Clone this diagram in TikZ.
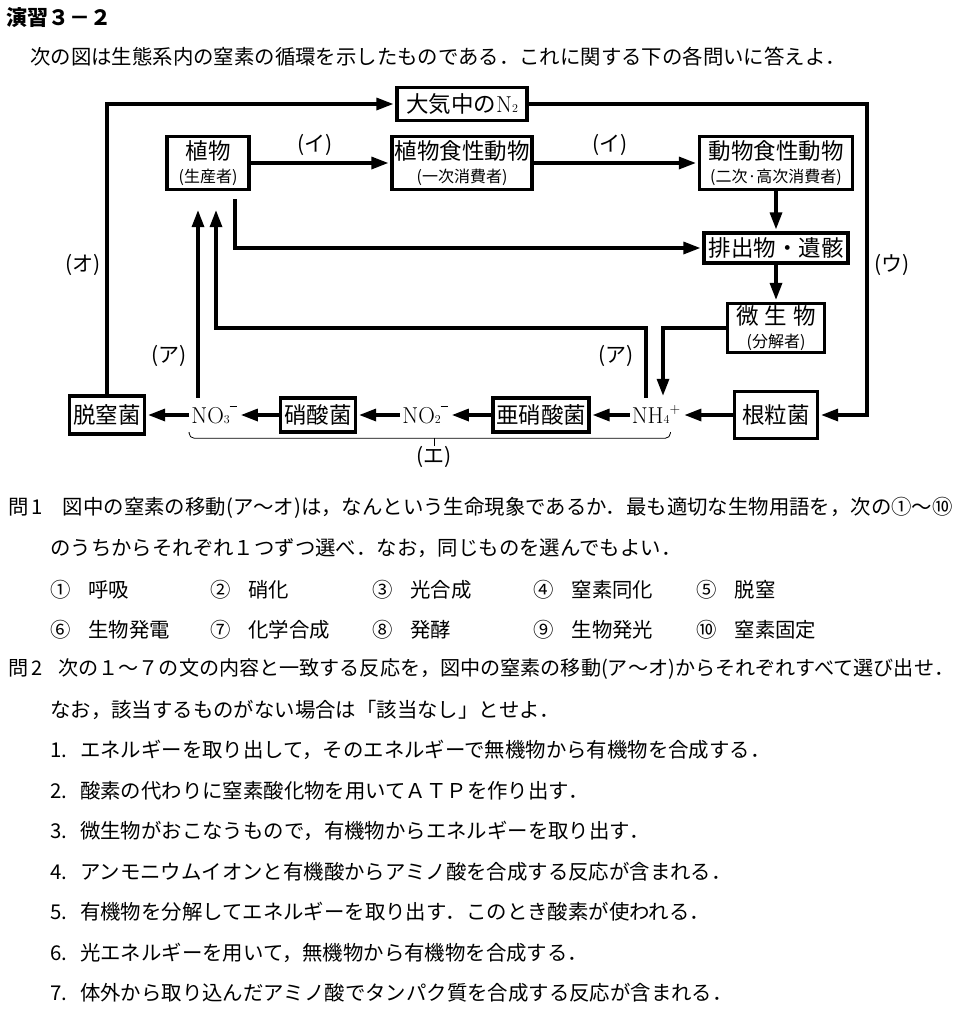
\documentclass[tikz,border=0pt]{standalone}
\usepackage{fontspec}
\usepackage{tikz}
\usetikzlibrary{arrows.meta}
\newfontfamily\jpfont{Noto Sans CJK JP}
\newcommand{\fsz}[1]{\fontsize{#1}{#1}\selectfont}

\begin{document}
\begin{tikzpicture}[x=1pt,y=-1pt,
  box/.style={draw,line width=3.2pt,inner sep=0pt,align=center,font=\jpfont\fsz{22.5}},
  chem/.style={font=\rmfamily\fsz{23},inner sep=2pt,text height=16pt,text depth=0pt},
  lbl/.style={font=\jpfont\fsz{21},inner sep=0pt},
  txt/.style={font=\jpfont\fsz{20.4},anchor=west,inner sep=0pt},
  link/.style={line width=3.2pt},
  arr/.style={link,shorten >=2pt,-{Triangle[length=17pt,width=12pt]}},
  thinline/.style={line width=0.8pt}]
\fill[white] (0,0) rectangle (968,1009);
\useasboundingbox (0,0) rectangle (968,1009);
\node[txt,font=\jpfont\bfseries\fsz{21}] (title) at (6,18) {演習３－２};
\node[txt] (intro) at (30,57) {次の図は生態系内の窒素の循環を示したものである．これに関する下の各問いに答えよ．};
\node[box,minimum width=130,minimum height=33] (n2) at (462,104) {大気中の{\rmfamily\fsz{23}N{\fsz{12}2}}};
\node[box,minimum width=82,minimum height=53] (plant) at (208,163) {植物\\{\fsz{16}(生産者)}};
\node[box,minimum width=140,minimum height=53] (herb) at (462,163) {植物食性動物\\{\fsz{16}(一次消費者)}};
\node[box,minimum width=153,minimum height=53] (carn) at (776,163) {動物食性動物\\{\fsz{16}(二次·高次消費者)}};
\node[box,minimum width=144,minimum height=30] (waste) at (776,248) {排出物・遺骸};
\node[box,minimum width=97,minimum height=49] (micro) at (776,328) {微\hspace{6pt}生\hspace{6pt}物\\{\fsz{16}(分解者)}};
\node[box,minimum width=75,minimum height=38] (denit) at (107,415) {脱窒菌};
\node[box,minimum width=75,minimum height=34] (nitrob) at (318,415) {硝酸菌};
\node[box,minimum width=96,minimum height=34] (nitros) at (541,415) {亜硝酸菌};
\node[box,minimum width=83,minimum height=47] (rhiz) at (776,415) {根粒菌};
\node[chem] (no3) at (214,415) {NO{\fsz{12}3}\raisebox{16pt}{\rule{7pt}{1.1pt}}};
\node[chem] (no2) at (425,415) {NO{\fsz{12}2}\raisebox{16pt}{\rule{7pt}{1.1pt}}};
\node[chem] (nh4) at (656,415) {NH{\fsz{12}4}\raisebox{10pt}{\fsz{14}+}};
\node[lbl] (lblI1) at (315,145) {(イ)};
\node[lbl] (lblI2) at (610,145) {(イ)};
\node[lbl] (lblO) at (83,265) {(オ)};
\node[lbl] (lblU) at (892,265) {(ウ)};
\node[lbl] (lblA1) at (169,356) {(ア)};
\node[lbl] (lblA2) at (616,356) {(ア)};
\node[lbl] (lblE) at (434,457) {(エ)};
\coordinate (uTurn) at (867,104);
\coordinate (plantOut) at ([xshift=27pt,yshift=-8pt]plant.south);
\coordinate (upA) at ([xshift=-10pt,yshift=-17pt]plant.south);
\coordinate (upB) at ([xshift=8pt,yshift=-17pt]plant.south);
\coordinate (no3Top) at ([yshift=7pt]no3.north);
\coordinate (nh4L) at ([xshift=-10pt,yshift=7pt]nh4.north);
\coordinate (nh4R) at ([xshift=7pt,yshift=7pt]nh4.north);
\coordinate (braceL) at ([yshift=-7pt]no3.south west);
\coordinate (braceR) at ([xshift=-12pt,yshift=-7pt]nh4.south east);
\coordinate (braceBot) at ([yshift=-6pt]braceL);
\draw[arr] (denit.north) |- (n2.west);
\draw[arr] (n2.east) -- (uTurn) |- (rhiz.east);
\draw[arr] (plant.east) -- (herb.west);
\draw[arr] (herb.east) -- (carn.west);
\draw[arr] (carn.south) -- (waste.north);
\draw[arr] (waste.south) -- (micro.north);
\draw[arr] (plantOut) |- (waste.west);
\draw[arr] (no3Top -| upA) -- (upA);
\draw[arr] (nh4L) -- (nh4L |- micro.west) -| (upB);
\draw[arr] (micro.west) -| (nh4R);
\draw[arr] (no3.west) -- (denit.east);
\draw[arr] (nitrob.west) -- (no3.east);
\draw[arr] (no2.west) -- (nitrob.east);
\draw[arr] (nitros.west) -- (no2.east);
\draw[arr] (nh4.west) -- (nitros.east);
\draw[arr] (rhiz.west) -- (nh4.east);
\draw[thinline,rounded corners=5pt] (braceL) -- (braceBot) -| (braceR);
\draw[thinline] (lblE.north) -- (lblE.north |- braceBot);
\node[txt] (q1) at (8,508) {問\hspace{3pt}1\hspace{20pt}図中の窒素の移動(ア～オ)は，なんという生命現象であるか．最も適切な生物用語を，次の①～⑩};
\node[txt] (q1b) at (50,548) {のうちからそれぞれ１つずつ選べ．なお，同じものを選んでもよい．};
\node[txt] (c1) at (50,590) {①\hspace{18pt}呼吸};
\node[txt] (c2) at (210,590) {②\hspace{18pt}硝化};
\node[txt] (c3) at (372,590) {③\hspace{18pt}光合成};
\node[txt] (c4) at (533,590) {④\hspace{18pt}窒素同化};
\node[txt] (c5) at (696,590) {⑤\hspace{18pt}脱窒};
\node[txt] (c6) at (50,630) {⑥\hspace{18pt}生物発電};
\node[txt] (c7) at (210,630) {⑦\hspace{18pt}化学合成};
\node[txt] (c8) at (372,630) {⑧\hspace{18pt}発酵};
\node[txt] (c9) at (533,630) {⑨\hspace{18pt}生物発光};
\node[txt] (c10) at (696,630) {⑩\hspace{18pt}窒素固定};
\node[txt,font=\jpfont\fsz{20.1}] (q2) at (8,669) {問\hspace{3pt}2\hspace{16pt}次の１～７の文の内容と一致する反応を，図中の窒素の移動(ア～オ)からそれぞれすべて選び出せ\makebox[8pt][l]{．}};
\node[txt] (q2b) at (50,710) {なお，該当するものがない場合は「該当なし」とせよ．};
\node[txt] (s1) at (50,750) {\makebox[30pt][l]{1.}エネルギーを取り出して，そのエネルギーで無機物から有機物を合成する．};
\node[txt] (s2) at (50,791) {\makebox[30pt][l]{2.}酸素の代わりに窒素酸化物を用いてＡＴＰを作り出す．};
\node[txt] (s3) at (50,831) {\makebox[30pt][l]{3.}微生物がおこなうもので，有機物からエネルギーを取り出す．};
\node[txt] (s4) at (50,872) {\makebox[30pt][l]{4.}アンモニウムイオンと有機酸からアミノ酸を合成する反応が含まれる．};
\node[txt] (s5) at (50,912) {\makebox[30pt][l]{5.}有機物を分解してエネルギーを取り出す．このとき酸素が使われる．};
\node[txt] (s6) at (50,953) {\makebox[30pt][l]{6.}光エネルギーを用いて，無機物から有機物を合成する．};
\node[txt] (s7) at (50,993) {\makebox[30pt][l]{7.}体外から取り込んだアミノ酸でタンパク質を合成する反応が含まれる．};
\end{tikzpicture}
\end{document}
